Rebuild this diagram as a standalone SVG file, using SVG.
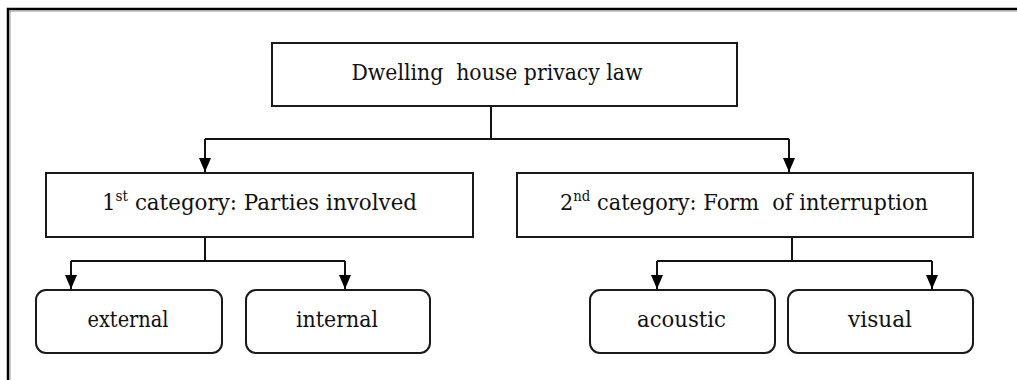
<svg xmlns="http://www.w3.org/2000/svg" width="1017" height="380" viewBox="0 0 1017 380">
<defs>
<marker id="arr" markerWidth="14" markerHeight="12" refX="14" refY="6" orient="auto" markerUnits="userSpaceOnUse" viewBox="0 0 14 12">
<path d="M0,0 L14,6 L0,12 Z" fill="#000"/>
</marker>
<style>
.box{fill:#fff;stroke:#1a1a1a;stroke-width:2}
.t{font-family:'DejaVu Serif','Liberation Serif',serif;font-size:22px;fill:#111;text-anchor:middle}
.sup{font-size:14px}
.c{fill:none;stroke:#111;stroke-width:2}
</style>
</defs>
<rect width="1017" height="380" fill="#fff"/>
<g id="frame">
<path d="M8,382 L8,9 L1020,9" fill="none" stroke="#000" stroke-width="2.5"/>
<path d="M10,382 L10,11 L1020,11" fill="none" stroke="#999" stroke-width="1"/>
</g>
<g id="connectors">
<path class="c" d="M491,106 L491,139"/>
<path class="c" d="M205,139 L789,139"/>
<path class="c" d="M205,139 L205,172" marker-end="url(#arr)"/>
<path class="c" d="M789,139 L789,172" marker-end="url(#arr)"/>
<path class="c" d="M205,237 L205,261"/>
<path class="c" d="M71,261 L345,261"/>
<path class="c" d="M71,261 L71,289" marker-end="url(#arr)"/>
<path class="c" d="M345,261 L345,289" marker-end="url(#arr)"/>
<path class="c" d="M792,237 L792,261"/>
<path class="c" d="M657,261 L932,261"/>
<path class="c" d="M657,261 L657,289" marker-end="url(#arr)"/>
<path class="c" d="M932,261 L932,289" marker-end="url(#arr)"/>
</g>
<g id="root">
<rect class="box" x="272" y="43" width="465" height="63"/>
<text class="t" x="497" y="80" textLength="291" lengthAdjust="spacingAndGlyphs" xml:space="preserve">Dwelling  house privacy law</text>
</g>
<g id="cat1">
<rect class="box" x="46" y="173" width="427" height="64"/>
<text class="t" x="259.5" y="210" textLength="315" lengthAdjust="spacingAndGlyphs">1<tspan class="sup" dy="-9">st</tspan><tspan dy="9"> category: Parties involved</tspan></text>
</g>
<g id="cat2">
<rect class="box" x="517" y="173" width="456" height="64"/>
<text class="t" x="744" y="210" textLength="368" lengthAdjust="spacingAndGlyphs" xml:space="preserve">2<tspan class="sup" dy="-9">nd</tspan><tspan dy="9"> category: Form  of interruption</tspan></text>
</g>
<g id="external">
<rect class="box" x="36" y="290" width="186" height="63" rx="10"/>
<text class="t" x="128" y="327" textLength="81" lengthAdjust="spacingAndGlyphs">external</text>
</g>
<g id="internal">
<rect class="box" x="246" y="290" width="184" height="63" rx="10"/>
<text class="t" x="337" y="327" textLength="82" lengthAdjust="spacingAndGlyphs">internal</text>
</g>
<g id="acoustic">
<rect class="box" x="590" y="290" width="185" height="63" rx="10"/>
<text class="t" x="681.5" y="327" textLength="89" lengthAdjust="spacingAndGlyphs">acoustic</text>
</g>
<g id="visual">
<rect class="box" x="788" y="290" width="185" height="63" rx="10"/>
<text class="t" x="880" y="327" textLength="64" lengthAdjust="spacingAndGlyphs">visual</text>
</g>
</svg>
